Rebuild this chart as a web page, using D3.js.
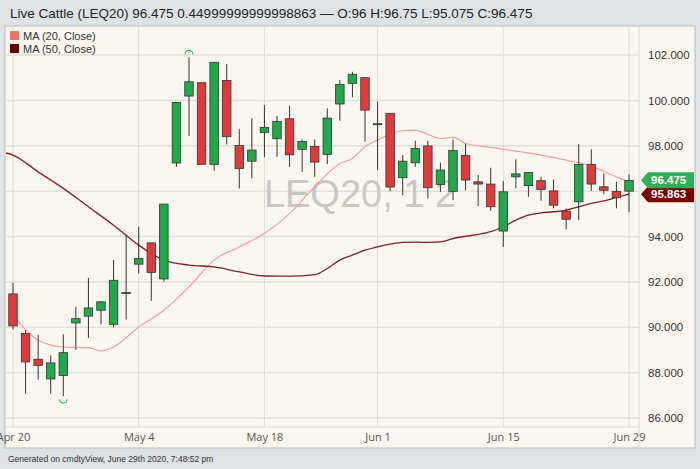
<!DOCTYPE html>
<html><head><meta charset="utf-8">
<script src="https://cdn.jsdelivr.net/npm/d3@7"></script>
<style>body{margin:0;background:#dfe2e5;font-family:"Liberation Sans",Arial,sans-serif}</style>
</head><body><svg id="c" width="700" height="469"></svg>
<script>
// OHLC per trading day, Apr 20 .. Jun 29 2020
const dates = ["Apr 20","Apr 21","Apr 22","Apr 23","Apr 24","Apr 27","Apr 28","Apr 29","Apr 30","May 1",
  "May 4","May 5","May 6","May 7","May 8","May 11","May 12","May 13","May 14","May 15",
  "May 18","May 19","May 20","May 21","May 22","May 26","May 27","May 28","May 29",
  "Jun 1","Jun 2","Jun 3","Jun 4","Jun 5","Jun 8","Jun 9","Jun 10","Jun 11","Jun 12",
  "Jun 15","Jun 16","Jun 17","Jun 18","Jun 19","Jun 22","Jun 23","Jun 24","Jun 25","Jun 26","Jun 29"];
const open  = [91.47,89.72,88.59,87.72,87.87,90.19,90.49,90.75,90.13,91.53,92.78,93.72,92.13,97.24,100.19,100.78,97.18,100.88,98.01,97.32,
  98.59,98.31,99.19,97.84,97.97,97.62,99.84,100.75,101.0,98.97,99.43,96.59,97.25,97.99,96.29,95.99,97.57,96.41,96.31,
  94.24,96.63,96.24,96.46,96.01,95.12,95.53,97.18,96.19,95.99,96.0];
const close = [90.06,88.47,88.32,88.43,88.88,90.38,90.85,91.12,92.07,91.53,93.03,92.41,95.43,99.91,100.82,97.18,101.68,98.4,96.99,97.81,
  98.81,99.07,97.60,98.19,97.28,99.22,100.7,101.15,99.57,98.97,96.18,97.32,97.88,96.15,96.93,97.79,96.49,96.31,95.31,
  95.97,96.76,96.82,96.07,95.38,94.76,97.18,96.31,96.04,95.71,96.475];
const high  = [91.96,89.87,89.65,88.76,89.69,90.9,92.18,91.15,92.96,94.07,94.43,93.72,95.43,99.91,101.9,100.78,101.68,101.6,98.74,99.21,
  99.79,99.31,99.76,98.28,98.28,99.65,100.9,101.26,101.0,99.94,99.43,97.59,98.22,98.22,97.26,98.28,98.1,96.71,97.03,
  96.44,97.4,96.85,96.63,96.51,95.24,98.07,97.84,96.78,96.41,96.75];
const low   = [89.9,87.07,87.69,87.07,86.96,89.0,89.53,90.13,89.99,90.34,92.37,91.16,92.01,97.07,98.43,97.18,96.9,98.06,96.12,96.56,
  97.49,97.51,97.07,96.85,96.63,97.19,99.1,100.13,98.18,96.93,96.0,95.82,97.07,95.68,95.97,95.6,96.04,95.34,95.13,
  93.54,96.12,95.75,95.57,95.24,94.31,94.72,96.01,95.87,95.24,95.075];
// moving averages read at sample days (index, value)
const ma20 = [[0,90.53],[2,89.43],[4,89.13],[6,89.1],[7,88.96],[8,89.13],[10,90.01],[12,90.75],[14,91.78],[16,92.96],[18,93.54],[20,94.13],
  [22,95.01],[24,96.19],[26,97.22],[27,97.44],[28,97.96],[29,98.25],[30,98.51],[31,98.66],[32,98.69],[33,98.5],[34,98.32],[35,98.37],
  [36,98.1],[38,97.93],[40,97.76],[42,97.59],[44,97.37],[46,97.1],[48,96.63],[49,96.41]];
const ma50 = [[-0.7,97.7],[0,97.59],[2,96.85],[4,96.12],[6,95.31],[8,94.5],[10,93.62],[11,93.25],[12,92.96],[14,92.74],[16,92.66],[18,92.44],
  [20,92.26],[22,92.25],[24,92.32],[25,92.59],[26,92.96],[27,93.18],[28,93.4],[29,93.54],[30,93.66],[31,93.74],[32,93.75],[33,93.74],
  [34,93.76],[35,93.91],[36,94.01],[37,94.09],[38,94.21],[39,94.43],[40,94.72],[41,94.94],[42,95.04],[43,95.09],[44,95.16],[45,95.31],
  [46,95.46],[47,95.57],[48,95.72],[49,95.863]];
const yTicks = [86,88,90,92,94,96,98,100,102];
const xTickIdx = [0,10,20,29,39,49];
const xTickLabels = ["Apr 20","May 4","May 18","Jun 1","Jun 15","Jun 29"];

const svg = d3.select("#c");
const L = 5, R = 639, T = 26, B = 427;
const x = d3.scaleLinear().domain([0, 49]).range([13, 629]);
const y = d3.scaleLinear().domain([86, 102]).range([418, 55]);

svg.append("text").attr("x", 10).attr("y", 18).attr("font-size", 13.5).attr("fill", "#222")
  .text("Live Cattle (LEQ20) 96.475 0.44999999999998863 — O:96 H:96.75 L:95.075 C:96.475");
svg.append("rect").attr("x", L).attr("y", T).attr("width", 690).attr("height", 422)
  .attr("fill", "#faf7f1").attr("stroke", "#b9bcbf");

const clip = svg.append("clipPath").attr("id", "pc").append("rect")
  .attr("x", L + 1).attr("y", T + 1).attr("width", R - L - 1).attr("height", B - T - 1);
const g = svg.append("g").attr("clip-path", "url(#pc)");

g.selectAll(".hg").data(yTicks).join("line")
  .attr("x1", L).attr("x2", R).attr("y1", d => y(d)).attr("y2", d => y(d))
  .attr("stroke", "#e2dfda").attr("stroke-width", 1.5);
g.selectAll(".vg").data(xTickIdx).join("line")
  .attr("x1", d => x(d)).attr("x2", d => x(d)).attr("y1", T).attr("y2", B)
  .attr("stroke", "#dcdad6");
svg.append("line").attr("x1", L).attr("x2", R).attr("y1", B).attr("y2", B).attr("stroke", "#d8d6d2");
svg.append("line").attr("x1", R).attr("x2", R).attr("y1", T).attr("y2", B + 20).attr("stroke", "#d8d6d2");

g.append("text").attr("x", 360).attr("y", 207).attr("text-anchor", "middle")
  .attr("font-size", 38).attr("fill", "#c9c7c4").text("LEQ20, 1 2");

const line = d3.line().x(d => x(d[0])).y(d => y(d[1])).curve(d3.curveMonotoneX);
g.append("path").attr("d", line(ma20)).attr("fill", "none").attr("stroke", "#f0a0a0").attr("stroke-width", 1.2);
g.append("path").attr("d", line(ma50)).attr("fill", "none").attr("stroke", "#7a2424").attr("stroke-width", 1.3);

const cw = 8.5;
const c = g.selectAll(".cd").data(dates.map((d, i) => i)).join("g");
c.append("line").attr("x1", i => x(i)).attr("x2", i => x(i))
  .attr("y1", i => y(high[i])).attr("y2", i => y(low[i])).attr("stroke", "#333").attr("stroke-width", 1);
c.append("rect").attr("x", i => x(i) - cw / 2).attr("width", cw)
  .attr("y", i => y(Math.max(open[i], close[i])))
  .attr("height", i => Math.max(1, Math.abs(y(open[i]) - y(close[i]))))
  .attr("fill", i => close[i] >= open[i] ? "#22a84a" : "#e03a3a")
  .attr("stroke", "#333").attr("stroke-width", 0.8);

// high / low markers
const arc = d3.arc();
const hi = d3.maxIndex(high), lo = d3.minIndex(low);
g.append("path").attr("transform", `translate(${x(hi)},${y(high[hi]) - 3})`)
  .attr("d", "M-4,0 A4,4 0 0 1 4,0").attr("fill", "none").attr("stroke", "#22a84a");
g.append("path").attr("transform", `translate(${x(lo)},${y(low[lo]) + 3})`)
  .attr("d", "M-4,0 A4,4 0 0 0 4,0").attr("fill", "none").attr("stroke", "#22a84a");

// legend
[["#f07070", "MA (20, Close)"], ["#6b0000", "MA (50, Close)"]].forEach((d, i) => {
  svg.append("rect").attr("x", 10).attr("y", 31 + i * 13).attr("width", 9).attr("height", 9).attr("fill", d[0]);
  svg.append("text").attr("x", 23).attr("y", 39.5 + i * 13).attr("font-size", 11).attr("fill", "#333").text(d[1]);
});

// axes
svg.append("g").attr("transform", `translate(${R},0)`)
  .call(d3.axisRight(y).tickValues(yTicks).tickFormat(d3.format(".3f")).tickSize(0).tickPadding(9))
  .call(a => a.select(".domain").remove())
  .call(a => a.selectAll("text").attr("font-size", 11.5).attr("fill", "#333").attr("font-family", "Liberation Sans, Arial"));
svg.append("g").attr("transform", `translate(0,${B})`)
  .call(d3.axisBottom(x).tickValues(xTickIdx).tickFormat((d, i) => xTickLabels[i]).tickSize(0).tickPadding(6))
  .call(a => a.select(".domain").remove())
  .call(a => a.selectAll("text").attr("font-size", 11).attr("fill", "#555").attr("font-family", "Open Sans, Arial"));

// price badges
[[95.863, "#7a0000", "95.863"], [96.475, "#2fae55", "96.475"]].forEach(d => {
  const yy = y(d[0]);
  svg.append("path").attr("d", `M${R + 2},${yy} L${R + 9},${yy - 8} L${R + 55},${yy - 8} L${R + 55},${yy + 8} L${R + 9},${yy + 8} Z`).attr("fill", d[1]);
  svg.append("text").attr("x", R + 12).attr("y", yy + 4).attr("font-size", 11.5).attr("font-weight", "bold")
    .attr("fill", "#fff").text(d[2]);
});

svg.append("text").attr("x", 8).attr("y", 462).attr("font-size", 8.5).attr("fill", "#333")
  .text("Generated on cmdtyView, June 29th 2020, 7:48:52 pm");
</script></body></html>
